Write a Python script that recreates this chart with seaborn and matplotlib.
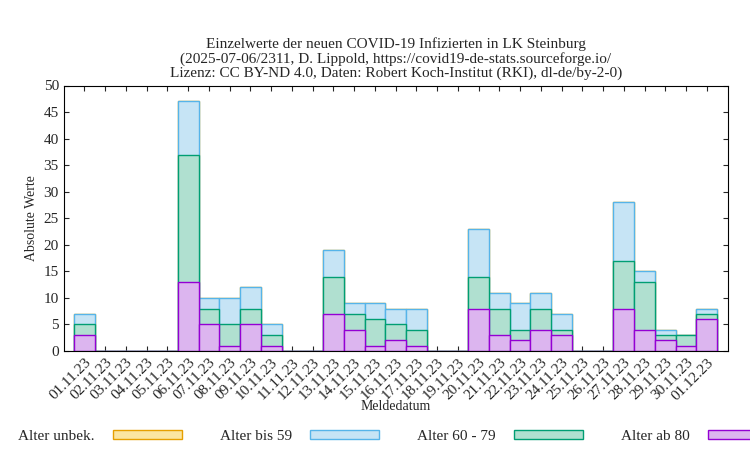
import matplotlib
matplotlib.use("Agg")
import matplotlib.pyplot as plt
import pandas as pd
import seaborn as sns
from matplotlib.patches import Patch

sns.set_style("ticks")
plt.rcParams['font.family'] = ['Liberation Serif', 'DejaVu Serif']

# Meldedaten 01.11.23 .. 01.12.23
datum = [f"{d:02d}.11.23" for d in range(1, 31)] + ["01.12.23"]

ab_80 = [3, 0, 0, 0, 0, 13, 5, 1, 5, 1, 0, 0, 7, 4, 1, 2, 1, 0, 0, 8, 3, 2, 4, 3, 0, 0, 8, 4, 2, 1, 6]
alter_60_79 = [2, 0, 0, 0, 0, 24, 3, 4, 3, 2, 0, 0, 7, 3, 5, 3, 3, 0, 0, 6, 5, 2, 4, 1, 0, 0, 9, 9, 1, 2, 1]
bis_59 = [2, 0, 0, 0, 0, 10, 2, 5, 4, 2, 0, 0, 5, 2, 3, 3, 4, 0, 0, 9, 3, 5, 3, 3, 0, 0, 11, 2, 1, 0, 1]
unbek = [0] * 31

df = pd.DataFrame({"datum": datum, "ab80": ab_80, "a6079": alter_60_79,
                   "bis59": bis_59, "unbek": unbek})
df["s2"] = df["ab80"] + df["a6079"]
df["s3"] = df["s2"] + df["bis59"]
df["s4"] = df["s3"] + df["unbek"]

fig, ax = plt.subplots(figsize=(7.5, 4.5), dpi=100)

schichten = [
    ("s4", "#fbe5a0", "#e69f00", "Alter unbek."),
    ("s3", "#c6e4f5", "#56b4e9", "Alter bis 59"),
    ("s2", "#b0e0d0", "#009e73", "Alter 60 - 79"),
    ("ab80", "#dcb5ef", "#9400d3", "Alter ab 80"),
]
for spalte, fc, ec, _ in schichten:
    sns.barplot(data=df, x="datum", y=spalte, color=fc, edgecolor=ec,
                linewidth=1, width=1.0, saturation=1, ax=ax)

ax.set_xlim(-1, 31)
ax.set_ylim(0, 50)
ax.set_yticks(range(0, 51, 5))
ax.set_xlabel("Meldedatum", labelpad=-2)
ax.set_ylabel("Absolute Werte")
plt.setp(ax.get_xticklabels(), rotation=45, ha="right", rotation_mode="anchor")
ax.tick_params(direction="in", top=True, right=True, labelsize=11)
for s in ax.spines.values():
    s.set_visible(True)
    s.set_color("black")

ax.set_title("Einzelwerte der neuen COVID-19 Infizierten in LK Steinburg\n"
             "(2025-07-06/2311, D. Lippold, https://covid19-de-stats.sourceforge.io/\n"
             "Lizenz: CC BY-ND 4.0, Daten: Robert Koch-Institut (RKI), dl-de/by-2-0)",
             fontsize=11, linespacing=1.1)

handles = [Patch(facecolor=fc, edgecolor=ec, label=lab) for _, fc, ec, lab in schichten]
fig.legend(handles=handles, loc="lower center", ncol=4, frameon=False,
           bbox_to_anchor=(0.53, -0.015), fontsize=11, handlelength=4.5,
           handleheight=0.6, handletextpad=1.2, columnspacing=2.5,
           markerfirst=False)

fig.subplots_adjust(left=0.085, right=0.97, top=0.81, bottom=0.22)
fig.savefig("out.png", dpi=100)
